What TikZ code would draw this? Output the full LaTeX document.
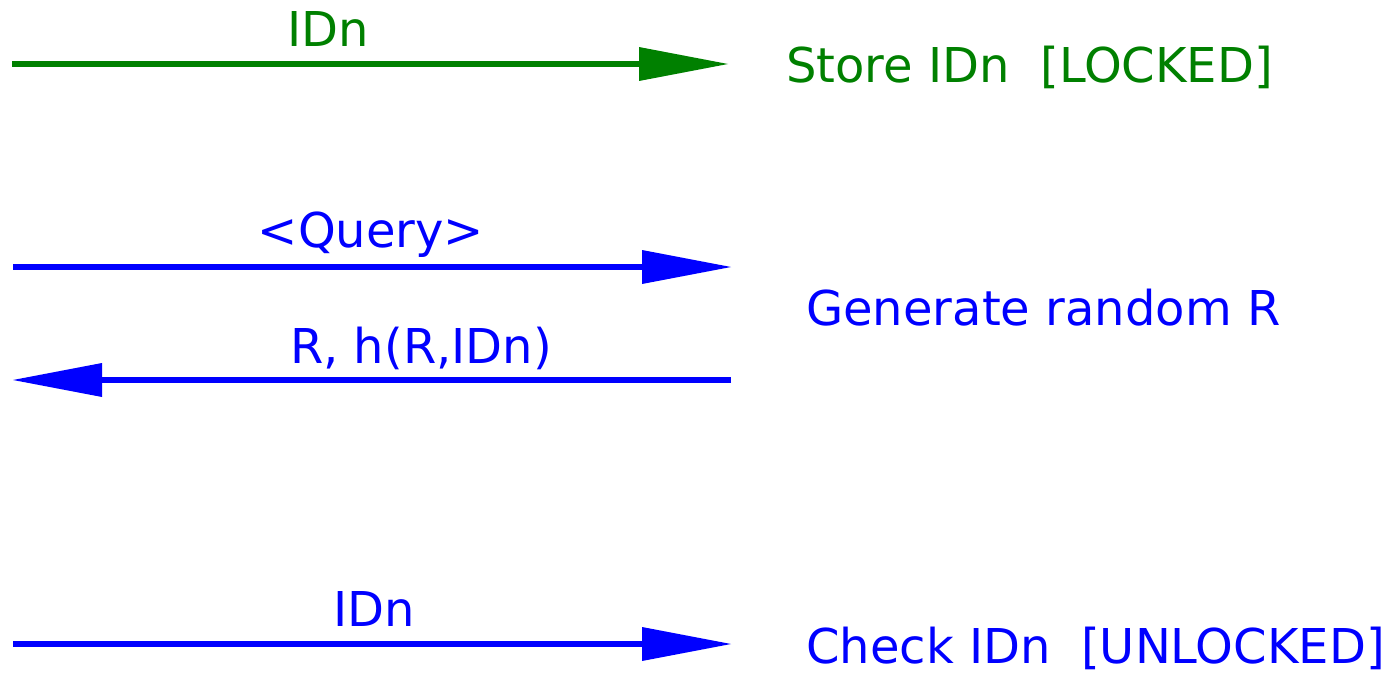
\documentclass[tikz,border=0pt]{standalone}
\usepackage{fontspec}
\setmainfont{DejaVu Sans}
\usetikzlibrary{positioning, arrows.meta}
\definecolor{lockgreen}{RGB}{0,128,0}
\definecolor{msgblue}{RGB}{0,0,255}

\begin{document}
\begin{tikzpicture}[x=1pt,y=-1pt,font=\fontsize{48}{56}\selectfont,
  >={Triangle[length=89pt,width=34pt,line width=0pt]},
  msg/.style={->,line width=6.5pt},
  lbl/.style={anchor=base,inner sep=0pt},
  act/.style={anchor=base west,inner sep=0pt}]
  \useasboundingbox (0,0) rectangle (1393,693);
  % message ends
  \coordinate (s1) at (12,64);  \coordinate (e1) at (728,64);
  \coordinate (s2) at (13,267); \coordinate (e2) at (731,267);
  \coordinate (s3) at (731,380); \coordinate (e3) at (13,380);
  \coordinate (s4) at (13,644); \coordinate (e4) at (731,644);
  % storing the id
  \draw[msg,lockgreen](s1)--(e1);
  \node[lbl,text=lockgreen](l1) at (328,47){IDn};
  \node[act,text=lockgreen](a1) at (786,83){Store IDn\ \ [LOCKED]};
  % query and reply
  \draw[msg,msgblue](s2)--(e2);
  \node[lbl,text=msgblue](l2) at (371,247){<Query>};
  \draw[msg,msgblue](s3)--(e3);
  \node[lbl,text=msgblue](l3) at (421,363){R, h(R,IDn)};
  \node[act,text=msgblue](a2) at (806,325){Generate random R};
  % unlocking
  \draw[msg,msgblue](s4)--(e4);
  \node[lbl,text=msgblue](l4) at (374,626){IDn};
  \node[act,text=msgblue](a3) at (806,663){Check IDn\ \ [UNLOCKED]};
\end{tikzpicture}
\end{document}
